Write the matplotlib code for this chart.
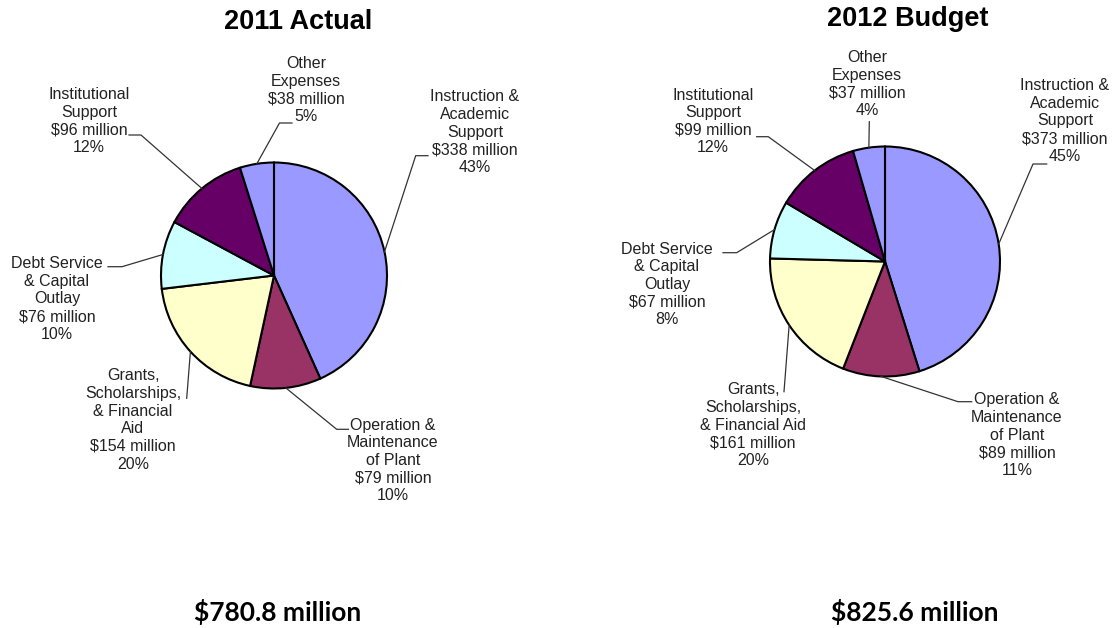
import numpy as np
import matplotlib.pyplot as plt

# categories (clockwise from 12 o'clock)
categories = ["Instruction & Academic Support", "Operation & Maintenance of Plant",
              "Grants, Scholarships, & Financial Aid", "Debt Service & Capital Outlay",
              "Institutional Support", "Other Expenses"]
colors = ["#9999FF", "#993366", "#FFFFCC", "#CCFFFF", "#660066", "#9999FF"]

values_2011 = [338, 79, 154, 76, 96, 38]
pcts_2011 = [43, 10, 20, 10, 12, 5]
values_2012 = [373, 89, 161, 67, 99, 37]
pcts_2012 = [45, 11, 20, 8, 12, 4]

names_2011 = ["Instruction &\nAcademic\nSupport", "Operation &\nMaintenance\nof Plant",
              "Grants,\nScholarships,\n& Financial\nAid", "Debt Service\n& Capital\nOutlay",
              "Institutional\nSupport", "Other\nExpenses"]
names_2012 = ["Instruction &\nAcademic\nSupport", "Operation &\nMaintenance\nof Plant",
              "Grants,\nScholarships,\n& Financial Aid", "Debt Service\n& Capital\nOutlay",
              "Institutional\nSupport", "Other\nExpenses"]

titles = ["2011 Actual", "2012 Budget"]
totals = ["$780.8 million", "$825.6 million"]

H = 628  # figure height in px, used to flip y


def fy(y):
    return H - y


fig = plt.figure(figsize=(11.14, 6.28), dpi=100)
ax = fig.add_axes([0, 0, 1, 1])

# layout: pie center/radius, label centers and leader elbows (pixel coords)
charts = [
    dict(values=values_2011, pcts=pcts_2011, names=names_2011,
         center=(274, 275.5), radius=113, title_xy=(298, 22), total_xy=(278, 612),
         labels=[(475, 132), (393, 460.5), (133, 420), (57, 299), (89, 121), (306, 90)],
         elbows=[[(428, 155.7), (415.7, 155.7)], [(348.3, 429.3), (336.7, 429.3)],
                 [(186.7, 398.3)], [(108, 266.7), (122, 266.7)],
                 [(129, 135), (141, 135)], [(292, 123), (279.5, 123)]]),
    dict(values=values_2012, pcts=pcts_2012, names=names_2012,
         center=(885, 261.5), radius=115, title_xy=(908, 19), total_xy=(915, 612),
         labels=[(1065, 121), (1017, 435), (753, 425), (667, 284.5), (713, 121.5), (867, 84)],
         elbows=[[(1046.7, 164), (1033, 164)], [(971.7, 401.7), (958, 401.7)],
                 [(784, 391.7)], [(723, 252.7), (736.7, 252.7)],
                 [(756.7, 136.7), (768.3, 136.7)], [(869.3, 121.7)]]),
]

for i, ch in enumerate(charts):
    cx, cy = ch["center"]
    wedges, _ = ax.pie(ch["values"], colors=colors, startangle=90, counterclock=False,
                       center=(cx, fy(cy)), radius=ch["radius"],
                       wedgeprops=dict(edgecolor="black", linewidth=1.5))
    for w, name, v, p, (lx, ly), elb in zip(wedges, ch["names"], ch["values"], ch["pcts"],
                                             ch["labels"], ch["elbows"]):
        ax.text(lx, fy(ly), f"{name}\n${v} million\n{p}%", ha="center", va="center",
                fontsize=11.5, family="Liberation Sans", color="#222222", linespacing=1.22)
        # leader line ends on the wedge's middle angle
        mid = np.deg2rad((w.theta1 + w.theta2) / 2)
        ex = cx + ch["radius"] * np.cos(mid)
        ey = fy(cy) + ch["radius"] * np.sin(mid)
        xs = [e[0] for e in elb] + [ex]
        ys = [fy(e[1]) for e in elb] + [ey]
        ax.plot(xs, ys, color="#333333", lw=0.9)
    tx, ty = ch["title_xy"]
    ax.text(tx, fy(ty), titles[i], ha="center", va="center",
            fontsize=19.5, fontweight="bold", family="Liberation Sans", color="black")
    bx, by = ch["total_xy"]
    ax.text(bx, fy(by), totals[i], ha="center", va="center",
            fontsize=19, fontweight="bold", family="Lato", color="black")

ax.set_xlim(0, 1114)
ax.set_ylim(0, H)
ax.set_aspect("equal")
ax.axis("off")

fig.savefig("out.png", dpi=100, facecolor="white")
